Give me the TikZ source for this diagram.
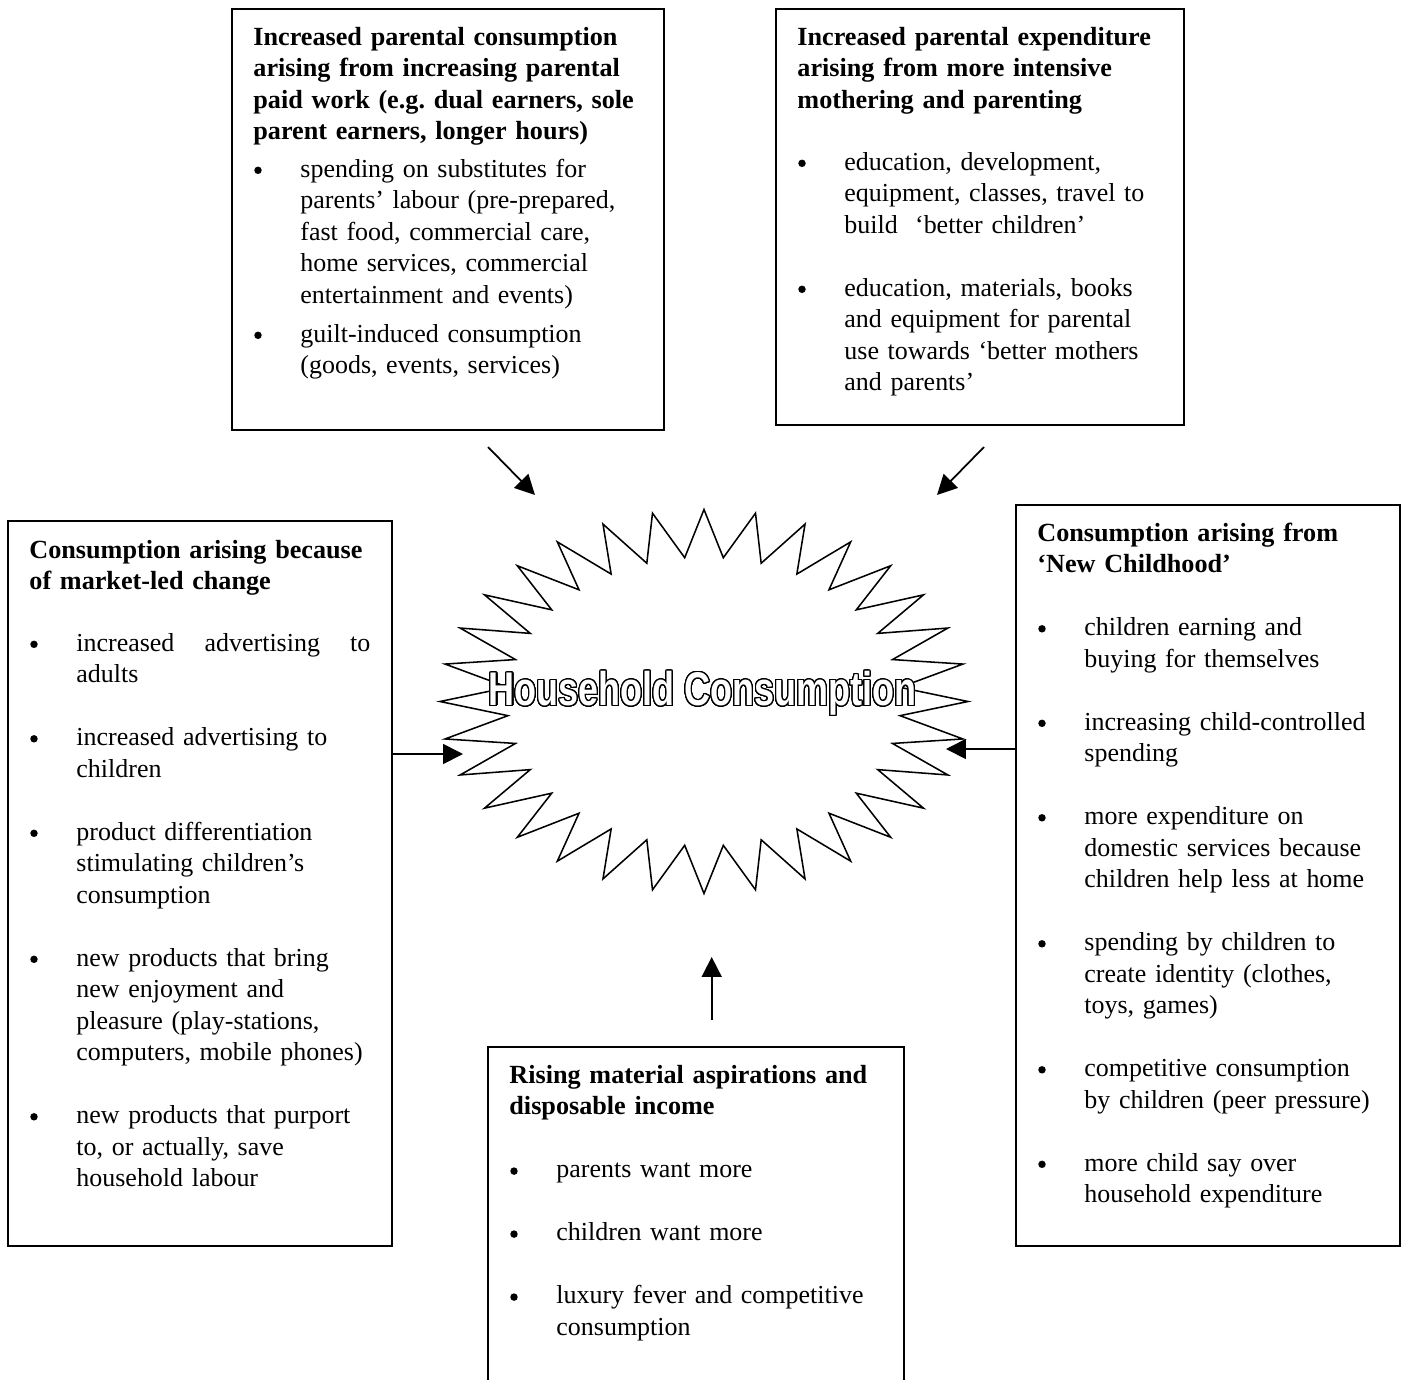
\documentclass[tikz,border=0pt]{standalone}
\usepackage{fontspec}
\setmainfont{Liberation Serif}
\newfontfamily\hcfont{Liberation Sans}
\usepackage{contour}
\contournumber{32}
\contourlength{0.55pt}
\usetikzlibrary{arrows.meta,fit}
\frenchspacing
\tikzset{
  px/.style={x=0.454545pt,y=-0.454545pt},
  box/.style={draw, line width=0.75pt, inner sep=0pt},
  ttl/.style={anchor=base west, inner sep=0pt, text width=230pt, align=left,
    font=\fontsize{11.9pt}{14.32pt}\selectfont\bfseries\frenchspacing},
  itm/.style={anchor=base west, inner sep=0pt, text width=200pt, align=left,
    font=\fontsize{11.8pt}{14.32pt}\selectfont\frenchspacing},
  bul/.style={circle, fill, draw=none, inner sep=0pt, minimum size=3.4pt},
  arr/.style={line width=0.8pt, -{Triangle[length=9pt,width=9pt]}},
  starline/.style={line width=0.7pt, line join=miter},
}
\newcommand\bitem[4]{%
  \node[bul] (#1b) at (#2+5,#3-6.7) {};
  \node[itm] (#1) at (#2+47,#3) {#4};
}
\begin{document}
\begin{tikzpicture}[px]
\useasboundingbox (0,0) rectangle (1404,1380);
\clip (0,0) rectangle (1404,1380);

% starburst
\draw[starline] plot[samples at={0,...,63}, variable=\k]
  ({704+ifthenelse(mod(\k,2)==0,264,197)*sin(\k*5.625)},
   {701.5-ifthenelse(mod(\k,2)==0,192,144.5)*cos(\k*5.625)}) -- cycle;
\node[anchor=base, inner sep=0pt] (hc) at (702.5,705.7)
  {\hcfont\bfseries\fontsize{21.5pt}{24pt}\selectfont\color{white}\contour{black}{\scalebox{0.76}[1]{Household Consumption}}};

% boxes
\coordinate (tlA) at (232,9);   \coordinate (tlB) at (664,430);
\coordinate (trA) at (776,9);   \coordinate (trB) at (1184,425);
\coordinate (lbA) at (8,521);   \coordinate (lbB) at (392,1246);
\coordinate (rbA) at (1016,505);\coordinate (rbB) at (1400,1246);
\coordinate (bbA) at (488,1047);\coordinate (bbB) at (904,1400);
\node[box, fit=(tlA)(tlB)] (tl) {};
\node[box, fit=(trA)(trB)] (tr) {};
\node[box, fit=(lbA)(lbB)] (lb) {};
\node[box, fit=(rbA)(rbB)] (rb) {};
\node[box, fit=(bbA)(bbB)] (bb) {};

% top-left box text
\node[ttl] (tlt) at (253,45) {Increased parental consumption\\arising from increasing parental\\paid work (e.g. dual earners, sole\\parent earners, longer hours)};
\bitem{tl1}{253}{177}{spending on substitutes for\\parents’ labour (pre-prepared,\\fast food, commercial care,\\home services, commercial\\entertainment and events)}
\bitem{tl2}{253}{342}{guilt-induced consumption\\(goods, events, services)}

% top-right box text
\node[ttl] (trt) at (797,45) {Increased parental expenditure\\arising from more intensive\\mothering and parenting};
\bitem{tr1}{797}{170}{education, development,\\equipment, classes, travel to\\build~\ ‘better children’}
\bitem{tr2}{797}{296}{education, materials, books\\and equipment for parental\\use towards ‘better mothers\\and parents’}

% left box text
\node[ttl] (lbt) at (29,558.3) {Consumption arising because\\of market-led change};
\bitem{lb1}{29}{651}{\hbox to 133.6pt{increased\hfill advertising\hfill to}\\adults}
\bitem{lb2}{29}{745.5}{increased advertising to\\children}
\bitem{lb3}{29}{840}{product differentiation\\stimulating children’s\\consumption}
\bitem{lb4}{29}{966}{new products that bring\\new enjoyment and\\pleasure (play-stations,\\computers, mobile phones)}
\bitem{lb5}{29}{1123.5}{new products that purport\\to, or actually, save\\household labour}

% right box text
\node[ttl] (rbt) at (1037,541) {Consumption arising from\\‘New Childhood’};
\bitem{rb1}{1037}{635.5}{children earning and\\buying for themselves}
\bitem{rb2}{1037}{730}{increasing child-controlled\\spending}
\bitem{rb3}{1037}{824.5}{more expenditure on\\domestic services because\\children help less at home}
\bitem{rb4}{1037}{950.5}{spending by children to\\create identity (clothes,\\toys, games)}
\bitem{rb5}{1037}{1076.5}{competitive consumption\\by children (peer pressure)}
\bitem{rb6}{1037}{1171}{more child say over\\household expenditure}

% bottom box text
\node[ttl] (bbt) at (509,1083.3) {Rising material aspirations and\\disposable income};
\bitem{bb1}{509}{1177.8}{parents want more}
\bitem{bb2}{509}{1240.8}{children want more}
\bitem{bb3}{509}{1303.8}{luxury fever and competitive\\consumption}

% arrows
\coordinate (a1s) at (488,447);  \coordinate (a1e) at (535,495);
\coordinate (a2s) at (984,447);  \coordinate (a2e) at (937,495);
\coordinate (a3e) at (463,754);
\coordinate (a4e) at (946,749);
\coordinate (a5s) at (711.7,1020); \coordinate (a5e) at (711.7,957);
\draw[arr] (a1s) -- (a1e);
\draw[arr] (a2s) -- (a2e);
\draw[arr] (a3e -| lb.east) -- (a3e);
\draw[arr] (a4e -| rb.west) -- (a4e);
\draw[arr] (a5s) -- (a5e);
\end{tikzpicture}
\end{document}
